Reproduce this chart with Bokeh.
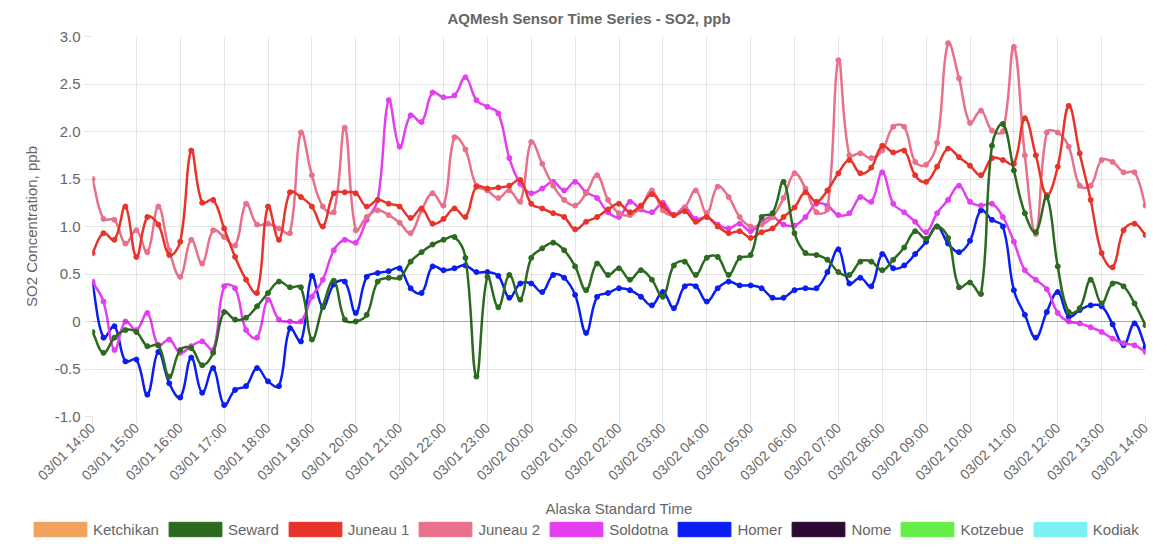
import math
from bokeh.plotting import figure
from bokeh.layouts import column
from bokeh.models import (Range1d, FixedTicker, CustomJSTickFormatter, Legend,
                          LegendItem, Span)
from bokeh.embed import file_html
from bokeh.resources import INLINE

# ---------------- data ----------------
tick_labels = [
    "03/01 14:00", "03/01 15:00", "03/01 16:00", "03/01 17:00", "03/01 18:00",
    "03/01 19:00", "03/01 20:00", "03/01 21:00", "03/01 22:00", "03/01 23:00",
    "03/02 00:00", "03/02 01:00", "03/02 02:00", "03/02 03:00", "03/02 04:00",
    "03/02 05:00", "03/02 06:00", "03/02 07:00", "03/02 08:00", "03/02 09:00",
    "03/02 10:00", "03/02 11:00", "03/02 12:00", "03/02 13:00", "03/02 14:00",
]
# sample times: hours after 03/01 14:00, every 15 minutes
hours = [i / 4 for i in range(97)]

stations = ["Ketchikan", "Seward", "Juneau 1", "Juneau 2", "Soldotna",
            "Homer", "Nome", "Kotzebue", "Kodiak"]
colors = ["#f2a15c", "#2b6a1f", "#e8332b", "#e8708b", "#e33ef0",
          "#0a1ef2", "#2c0a33", "#66ee48", "#7af2f5"]

seward = [-0.11, -0.33, -0.17, -0.09, -0.11, -0.26, -0.25, -0.58, -0.30, -0.28,
          -0.46, -0.33, 0.10, 0.02, 0.04, 0.16, 0.30, 0.42, 0.36, 0.36,
          -0.19, 0.16, 0.43, 0.02, 0.00, 0.07, 0.42, 0.46, 0.46, 0.63,
          0.73, 0.81, 0.86, 0.89, 0.67, -0.58, 0.47, 0.15, 0.49, 0.23,
          0.67, 0.77, 0.83, 0.75, 0.58, 0.33, 0.61, 0.49, 0.56, 0.44,
          0.54, 0.44, 0.26, 0.59, 0.63, 0.49, 0.67, 0.68, 0.49, 0.67,
          0.70, 1.10, 1.14, 1.47, 0.93, 0.72, 0.70, 0.65, 0.52, 0.49,
          0.63, 0.63, 0.54, 0.65, 0.78, 0.95, 0.87, 1.00, 0.88, 0.36,
          0.41, 0.29, 1.85, 2.08, 1.59, 1.14, 0.94, 1.31, 0.58, 0.10,
          0.14, 0.44, 0.19, 0.40, 0.37, 0.19, -0.04]

juneau1 = [0.72, 0.93, 0.86, 1.21, 0.68, 1.10, 1.02, 0.70, 0.84, 1.80,
           1.25, 1.28, 0.98, 0.68, 0.44, 0.30, 1.21, 0.86, 1.36, 1.31,
           1.21, 1.00, 1.35, 1.36, 1.35, 1.21, 1.28, 1.24, 1.21, 1.09,
           1.19, 1.03, 1.08, 1.19, 1.10, 1.42, 1.40, 1.41, 1.43, 1.49,
           1.24, 1.19, 1.14, 1.10, 0.97, 1.05, 1.10, 1.18, 1.24, 1.15,
           1.22, 1.34, 1.22, 1.12, 1.16, 1.05, 1.10, 1.00, 0.93, 0.95,
           0.88, 0.94, 0.98, 1.10, 1.20, 1.36, 1.26, 1.38, 1.56, 1.70,
           1.56, 1.62, 1.85, 1.78, 1.80, 1.54, 1.47, 1.63, 1.82, 1.73,
           1.64, 1.54, 1.72, 1.70, 1.66, 2.14, 1.75, 1.33, 1.63, 2.27,
           1.77, 1.28, 0.72, 0.57, 0.96, 1.03, 0.91]

juneau2 = [1.50, 1.08, 1.07, 0.82, 0.96, 0.73, 1.21, 0.75, 0.47, 0.86,
           0.61, 0.96, 0.89, 0.80, 1.24, 1.02, 1.03, 0.98, 0.93, 1.99,
           1.54, 1.21, 1.15, 2.04, 0.96, 1.10, 1.17, 1.12, 1.04, 0.93,
           1.17, 1.35, 1.22, 1.94, 1.81, 1.43, 1.38, 1.30, 1.38, 1.26,
           1.89, 1.66, 1.43, 1.28, 1.22, 1.35, 1.54, 1.28, 1.14, 1.12,
           1.20, 1.38, 1.17, 1.12, 1.20, 1.38, 1.14, 1.42, 1.31, 1.10,
           1.00, 1.02, 1.10, 1.30, 1.56, 1.40, 1.15, 1.18, 2.75, 1.75,
           1.77, 1.72, 1.80, 2.05, 2.05, 1.68, 1.65, 1.88, 2.93, 2.56,
           2.09, 2.22, 2.01, 2.00, 2.89, 1.75, 0.92, 1.99, 1.99, 1.84,
           1.43, 1.43, 1.70, 1.68, 1.57, 1.57, 1.22]

soldotna = [0.42, 0.21, -0.30, 0.00, -0.09, 0.09, -0.25, -0.19, -0.33, -0.26,
            -0.21, -0.30, 0.37, 0.35, -0.09, -0.17, 0.23, 0.02, 0.00, 0.00,
            0.26, 0.44, 0.75, 0.86, 0.83, 1.07, 1.28, 2.33, 1.84, 2.17,
            2.10, 2.41, 2.36, 2.38, 2.57, 2.33, 2.26, 2.19, 1.72, 1.45,
            1.35, 1.40, 1.47, 1.38, 1.47, 1.36, 1.30, 1.15, 1.10, 1.26,
            1.18, 1.15, 1.25, 1.12, 1.20, 1.08, 1.10, 1.02, 0.98, 1.03,
            0.95, 1.05, 1.10, 1.02, 1.01, 1.10, 1.24, 1.22, 1.12, 1.14,
            1.31, 1.26, 1.57, 1.24, 1.15, 1.05, 0.94, 1.14, 1.28, 1.43,
            1.26, 1.22, 1.24, 1.10, 0.84, 0.54, 0.44, 0.34, 0.09, 0.00,
            -0.02, -0.06, -0.11, -0.18, -0.23, -0.25, -0.32]

homer = [0.40, -0.17, -0.05, -0.42, -0.40, -0.77, -0.32, -0.65, -0.80, -0.38,
         -0.75, -0.49, -0.88, -0.72, -0.68, -0.49, -0.63, -0.68, -0.07, -0.21,
         0.48, 0.15, 0.39, 0.42, 0.09, 0.47, 0.51, 0.53, 0.56, 0.35,
         0.30, 0.58, 0.54, 0.56, 0.59, 0.52, 0.52, 0.48, 0.25, 0.40,
         0.40, 0.31, 0.49, 0.46, 0.28, -0.12, 0.26, 0.30, 0.35, 0.33,
         0.26, 0.17, 0.31, 0.14, 0.37, 0.37, 0.21, 0.35, 0.42, 0.38,
         0.38, 0.35, 0.25, 0.25, 0.33, 0.35, 0.35, 0.52, 0.76, 0.40,
         0.46, 0.37, 0.71, 0.56, 0.59, 0.71, 0.84, 1.00, 0.82, 0.73,
         0.85, 1.17, 1.07, 1.00, 0.33, 0.07, -0.17, 0.10, 0.31, 0.05,
         0.12, 0.17, 0.16, -0.03, -0.25, -0.02, -0.27]

series = {"Seward": seward, "Juneau 1": juneau1, "Juneau 2": juneau2,
          "Soldotna": soldotna, "Homer": homer}

y_ticks = [-1.0, -0.5, 0.0, 0.5, 1.0, 1.5, 2.0, 2.5, 3.0]

# ---------------- layout constants ----------------
FONT = "Liberation Sans"
TXT = "#666666"
W = 1151
FRAME_W, FRAME_H = 1053, 381
X0, X1, Y0, Y1 = 0, 24, -1, 3


def spline_segments(xs, ys, tension=0.4):
    """Cubic segments through the points (monotone-free cardinal spline,
    control points worked out in screen space) - the drawing style of the
    original line chart."""
    kx = FRAME_W / (X1 - X0)
    ky = FRAME_H / (Y1 - Y0)
    px = [x * kx for x in xs]
    py = [y * ky for y in ys]
    n = len(px)
    prev_cp, next_cp = [], []
    for i in range(n):
        a, b = max(i - 1, 0), min(i + 1, n - 1)
        d01 = math.hypot(px[i] - px[a], py[i] - py[a])
        d12 = math.hypot(px[b] - px[i], py[b] - py[i])
        tot = d01 + d12
        fa = tension * (d01 / tot if tot else 0)
        fb = tension * (d12 / tot if tot else 0)
        dx, dy = px[b] - px[a], py[b] - py[a]
        cap = lambda v, lo, hi: min(max(v, lo), hi)
        prev_cp.append((cap(px[i] - fa * dx, X0 * kx, X1 * kx) / kx,
                        cap(py[i] - fa * dy, Y0 * ky, Y1 * ky) / ky))
        next_cp.append((cap(px[i] + fb * dx, X0 * kx, X1 * kx) / kx,
                        cap(py[i] + fb * dy, Y0 * ky, Y1 * ky) / ky))
    return dict(x0=xs[:-1], y0=ys[:-1], x1=xs[1:], y1=ys[1:],
                cx0=[c[0] for c in next_cp[:-1]], cy0=[c[1] for c in next_cp[:-1]],
                cx1=[c[0] for c in prev_cp[1:]], cy1=[c[1] for c in prev_cp[1:]])


# ---------------- main chart ----------------
p = figure(width=W, height=520, x_range=Range1d(X0, X1), y_range=Range1d(Y0, Y1),
           output_backend="svg", toolbar_location=None,
           min_border_left=92, min_border_right=6, min_border_top=36,
           min_border_bottom=103,
           title="AQMesh Sensor Time Series - SO2, ppb")
p.outline_line_color = None
p.background_fill_color = "white"

p.title.align = "left"
p.title.offset = 355
p.title.standoff = 17
p.title.vertical_align = "middle"
p.title.text_font = FONT
p.title.text_font_size = "15px"
p.title.text_font_style = "bold"
p.title.text_color = TXT

p.xaxis.ticker = FixedTicker(ticks=list(range(len(tick_labels))))
p.xaxis.major_label_overrides = {i: lab for i, lab in enumerate(tick_labels)}
p.xaxis.major_label_orientation = math.pi / 4
p.yaxis.ticker = FixedTicker(ticks=y_ticks)
p.yaxis.formatter = CustomJSTickFormatter(code="return tick == 0 ? '0' : tick.toFixed(1);")
p.xgrid.ticker = FixedTicker(ticks=list(range(len(tick_labels))))
p.ygrid.ticker = FixedTicker(ticks=y_ticks)

for ax in (p.xaxis, p.yaxis):
    ax.axis_line_color = None
    ax.major_tick_line_color = "black"
    ax.major_tick_line_alpha = 0.1
    ax.major_tick_out = 8
    ax.major_tick_in = 0
    ax.minor_tick_line_color = None
    ax.major_label_text_font = FONT
    ax.major_label_text_font_size = "15px"
    ax.major_label_text_color = TXT
    ax.major_label_standoff = 4
    ax.axis_label_text_font = FONT
    ax.axis_label_text_font_size = "15px"
    ax.axis_label_text_font_style = "normal"
    ax.axis_label_text_color = TXT

p.xaxis.major_label_text_font_size = "14px"
p.xaxis.major_label_standoff = 1
p.xaxis.axis_label = "Alaska Standard Time"
p.yaxis.axis_label = "SO2 Concentration, ppb"
p.yaxis.axis_label_standoff = 12
p.xaxis.axis_label_standoff = 8

for g in (p.xgrid, p.ygrid):
    g.grid_line_color = "black"
    g.grid_line_alpha = 0.1

p.add_layout(Span(location=0, dimension="width", line_color="black",
                  line_alpha=0.25, line_width=1))

# draw: first dataset ends up on top (as in the original)
draw_order = ["Homer", "Soldotna", "Juneau 2", "Juneau 1", "Seward"]
for name in draw_order:
    c = colors[stations.index(name)]
    vals = series[name]
    seg = spline_segments(hours, vals)
    p.bezier(x0=seg["x0"], y0=seg["y0"], x1=seg["x1"], y1=seg["y1"],
             cx0=seg["cx0"], cy0=seg["cy0"], cx1=seg["cx1"], cy1=seg["cy1"],
             line_color=c, line_width=2.5, line_cap="round")
    p.scatter(hours, vals, size=5, fill_color=c, line_color=c)

# ---------------- legend strip ----------------
lg = figure(width=W, height=18, x_range=Range1d(0, 1), y_range=Range1d(0, 1),
            output_backend="svg", toolbar_location=None,
            x_axis_type=None, y_axis_type=None,
            min_border_left=0, min_border_right=0, min_border_top=0,
            min_border_bottom=0)
lg.outline_line_color = None
lg.xgrid.visible = False
lg.ygrid.visible = False

aligned = True
for fig in (p, lg):
    if "frame_align" in fig.properties():
        fig.frame_align = False
        aligned = False

items = []
for name, c in zip(stations, colors):
    # hidden proxy renderer: only supplies the legend swatch style
    r = lg.rect(x=[0.5], y=[0.5], width=0.1, height=0.1, fill_color=c,
                line_color=c, visible=False)
    items.append(LegendItem(label=name, renderers=[r]))

legend = Legend(items=items, orientation="horizontal",
                location=(-65 if aligned else 27, 0),
                glyph_width=66, glyph_height=18, label_standoff=0, spacing=3,
                padding=0, margin=0, border_line_color=None,
                background_fill_alpha=0, label_text_font=FONT,
                label_text_font_size="15px", label_text_color=TXT,
                label_height=18)
lg.add_layout(legend, "center")

open("out.html", "w").write(file_html(column(p, lg, spacing=0), INLINE))
